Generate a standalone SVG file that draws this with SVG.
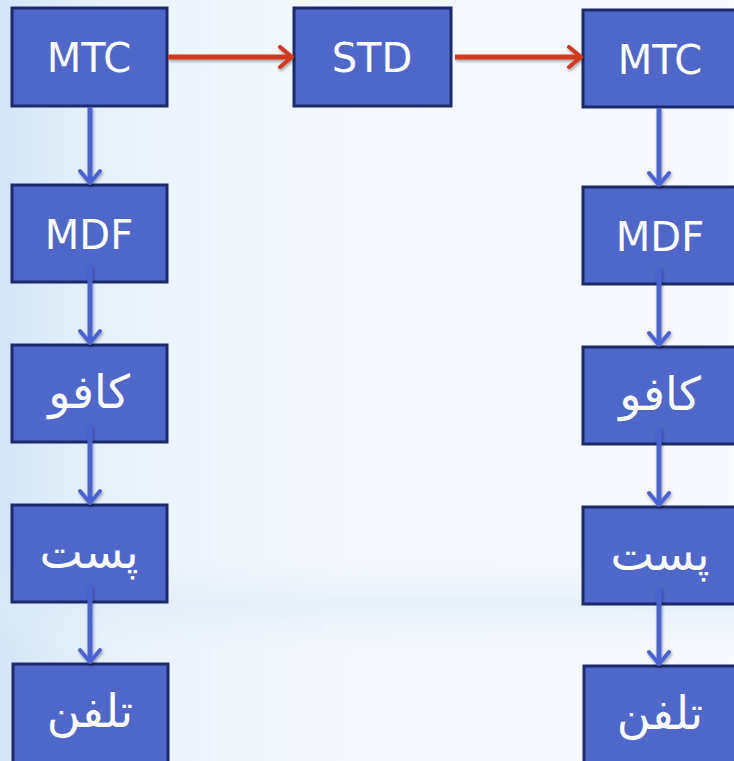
<svg xmlns="http://www.w3.org/2000/svg" width="734" height="761" viewBox="0 0 734 761">
<defs>
<linearGradient id="bg" x1="0" y1="0" x2="1" y2="0">
<stop offset="0" stop-color="#d3e6f7"/>
<stop offset="0.15" stop-color="#e9f2fb"/>
<stop offset="0.45" stop-color="#f4f8fd"/>
<stop offset="1" stop-color="#f6f9fd"/>
</linearGradient>
<linearGradient id="band" x1="0" y1="0" x2="0" y2="1">
<stop offset="0" stop-color="#e2eefa" stop-opacity="0"/>
<stop offset="0.5" stop-color="#dcebf8" stop-opacity="0.6"/>
<stop offset="1" stop-color="#e2eefa" stop-opacity="0"/>
</linearGradient>
<filter id="sh" x="-30%" y="-30%" width="160%" height="160%">
<feDropShadow dx="1" dy="2" stdDeviation="1.5" flood-color="#000" flood-opacity="0.35"/>
</filter>
<marker id="ab" viewBox="0 0 24 24" refX="21" refY="12" markerWidth="24" markerHeight="24" markerUnits="userSpaceOnUse" orient="auto">
<path d="M9,2 L21,12 L9,22" fill="none" stroke="#4a63d3" stroke-width="4" stroke-linecap="round" stroke-linejoin="round"/>
</marker>
<marker id="ar" viewBox="0 0 24 24" refX="21" refY="12" markerWidth="24" markerHeight="24" markerUnits="userSpaceOnUse" orient="auto">
<path d="M9,2 L21,12 L9,22" fill="none" stroke="#d2381c" stroke-width="4" stroke-linecap="round" stroke-linejoin="round"/>
</marker>
</defs>
<style>
.box{fill:#4f67c9;stroke:#1c2a6b;stroke-width:3}
.t{fill:#ffffff;font-family:"DejaVu Sans","Noto Sans",sans-serif;font-size:40px;text-anchor:middle;dominant-baseline:central}
.a{font-size:46px}
.vb{stroke:#4a63d3;stroke-width:5;fill:none;marker-end:url(#ab)}
.hr{stroke:#d2381c;stroke-width:5;fill:none;marker-end:url(#ar)}
</style>
<rect width="734" height="761" fill="url(#bg)"/>
<rect x="0" y="560" width="734" height="90" fill="url(#band)"/>
<g id="mtc1"><rect class="box" x="12" y="8" width="155" height="98"/><text class="t" x="89" y="58">MTC</text></g>
<g id="std"><rect class="box" x="294" y="8" width="157" height="98"/><text class="t" x="372" y="58">STD</text></g>
<g id="mtc2"><rect class="box" x="583" y="10" width="160" height="97"/><text class="t" x="660" y="60">MTC</text></g>
<g id="mdf1"><rect class="box" x="12" y="185" width="155" height="97"/><text class="t" x="89" y="235">MDF</text></g>
<g id="mdf2"><rect class="box" x="583" y="187" width="160" height="97"/><text class="t" x="660" y="237">MDF</text></g>
<g id="kafu1"><rect class="box" x="12" y="345" width="155" height="97"/><text class="t a" x="89" y="392">كافو</text></g>
<g id="kafu2"><rect class="box" x="583" y="347" width="160" height="97"/><text class="t a" x="660" y="394">كافو</text></g>
<g id="post1"><rect class="box" x="12" y="505" width="155" height="97"/><text class="t a" x="89" y="552">پست</text></g>
<g id="post2"><rect class="box" x="583" y="507" width="160" height="97"/><text class="t a" x="660" y="554">پست</text></g>
<g id="tel1"><rect class="box" x="13" y="664" width="155" height="105"/><text class="t a" x="90" y="711">تلفن</text></g>
<g id="tel2"><rect class="box" x="584" y="666" width="160" height="105"/><text class="t a" x="660" y="713">تلفن</text></g>
<g id="connectors" filter="url(#sh)">
<path class="hr" d="M168,57 L292,57"/>
<path class="hr" d="M455,57 L581,57"/>
<path class="vb" d="M90,107 L90,183"/>
<path class="vb" d="M90,265 L90,343"/>
<path class="vb" d="M90,425 L90,503"/>
<path class="vb" d="M90,585 L90,662"/>
<path class="vb" d="M659,108 L659,185"/>
<path class="vb" d="M659,267 L659,345"/>
<path class="vb" d="M659,427 L659,505"/>
<path class="vb" d="M659,587 L659,664"/>
</g>
</svg>
